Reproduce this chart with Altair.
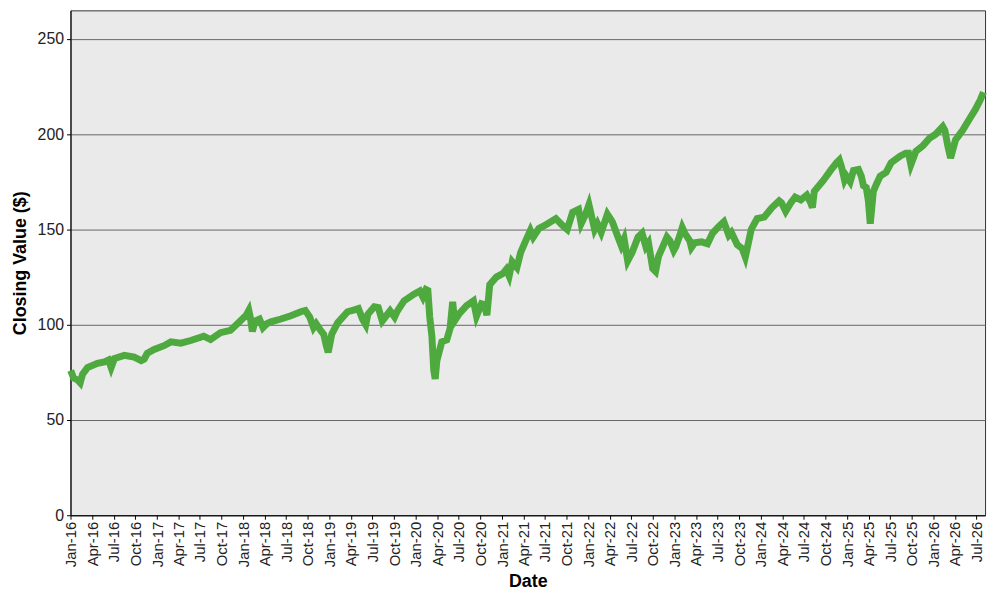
import altair as alt
import pandas as pd

dates = [
    "2016-01-01", "2016-01-13", "2016-01-30", "2016-02-10", "2016-02-20", "2016-03-12",
    "2016-04-23", "2016-05-23", "2016-06-09", "2016-06-20", "2016-07-04", "2016-08-15",
    "2016-09-26", "2016-10-25", "2016-11-07", "2016-11-20", "2016-12-19", "2017-01-30",
    "2017-02-28", "2017-04-11", "2017-05-23", "2017-07-17", "2017-08-15", "2017-09-26",
    "2017-11-07", "2017-12-11", "2018-01-13", "2018-01-24", "2018-01-30", "2018-02-08",
    "2018-02-20", "2018-03-10", "2018-03-25", "2018-04-10", "2018-04-28", "2018-06-09",
    "2018-07-21", "2018-09-01", "2018-09-20", "2018-10-09", "2018-10-25", "2018-11-05",
    "2018-11-24", "2018-12-07", "2018-12-18", "2018-12-26", "2019-01-10", "2019-02-04",
    "2019-03-18", "2019-04-16", "2019-05-03", "2019-05-20", "2019-06-03", "2019-06-12",
    "2019-07-09", "2019-07-26", "2019-08-12", "2019-09-14", "2019-10-03", "2019-10-14",
    "2019-11-12", "2019-12-24", "2020-01-18", "2020-01-31", "2020-02-13", "2020-02-21",
    "2020-02-29", "2020-03-09", "2020-03-17", "2020-03-23", "2020-03-30", "2020-04-20",
    "2020-05-11", "2020-05-25", "2020-06-05", "2020-06-13", "2020-07-04", "2020-08-03",
    "2020-09-01", "2020-09-14", "2020-10-05", "2020-10-17", "2020-10-28", "2020-11-09",
    "2020-12-07", "2021-01-05", "2021-01-18", "2021-01-30", "2021-02-12", "2021-03-04",
    "2021-03-20", "2021-04-10", "2021-04-30", "2021-05-12", "2021-06-05", "2021-07-05",
    "2021-08-16", "2021-09-14", "2021-10-03", "2021-10-26", "2021-11-20", "2021-12-01",
    "2021-12-20", "2022-01-03", "2022-01-18", "2022-01-27", "2022-02-08", "2022-02-24",
    "2022-03-22", "2022-04-12", "2022-05-03", "2022-05-20", "2022-06-01", "2022-06-16",
    "2022-07-05", "2022-07-30", "2022-08-16", "2022-09-01", "2022-09-12", "2022-09-30",
    "2022-10-12", "2022-10-25", "2022-11-08", "2022-11-29", "2022-12-12", "2022-12-28",
    "2023-01-06", "2023-01-23", "2023-02-02", "2023-02-13", "2023-03-06", "2023-03-13",
    "2023-03-27", "2023-04-25", "2023-05-20", "2023-06-10", "2023-07-10", "2023-07-28",
    "2023-08-18", "2023-08-29", "2023-09-23", "2023-10-14", "2023-10-27", "2023-11-04",
    "2023-11-21", "2023-12-16", "2024-01-15", "2024-02-17", "2024-03-18", "2024-03-28",
    "2024-04-15", "2024-05-07", "2024-05-25", "2024-06-18", "2024-07-13", "2024-07-30",
    "2024-08-06", "2024-08-14", "2024-09-23", "2024-10-22", "2024-11-16", "2024-11-28",
    "2024-12-07", "2024-12-20", "2024-12-28", "2025-01-13", "2025-01-27", "2025-02-17",
    "2025-03-01", "2025-03-10", "2025-03-22", "2025-03-31", "2025-04-08", "2025-04-21",
    "2025-05-05", "2025-05-20", "2025-06-14", "2025-07-05", "2025-08-12", "2025-09-05",
    "2025-09-17", "2025-09-27", "2025-10-18", "2025-11-17", "2025-12-16", "2026-01-10",
    "2026-02-09", "2026-02-18", "2026-03-02", "2026-03-14", "2026-04-04", "2026-05-04",
    "2026-06-02", "2026-06-27", "2026-07-18", "2026-07-31",
]

closing = [
    76, 72, 71, 69.5, 74, 77.5,
    79.7, 80.5, 81.5, 77.5, 82.3, 83.9,
    83, 81.2, 82, 85, 87, 89,
    91, 90.3, 91.7, 94, 92.2, 95.8,
    97, 101, 105, 107.5, 104, 96.5,
    102, 103, 98.5, 100.5, 101.5, 103,
    104.7, 106.8, 107.5, 104, 98.5, 100.5,
    97, 95, 89, 85.5, 95, 101,
    106.8, 107.8, 108.5, 103, 100, 105.5,
    109.4, 109, 102, 107.3, 104, 107,
    112.5, 116, 117.7, 114.5, 118.5, 118,
    104, 94, 76, 71.5, 81, 91,
    92, 98, 112, 102, 106, 110,
    112.5, 104.5, 111, 110.5, 105, 121,
    125, 127, 129, 125.5, 133, 130,
    138, 144, 149.5, 146, 150.5, 152.5,
    155.7, 152, 150, 159, 160.5, 153,
    158, 163, 155, 150, 153, 148.5,
    158, 154, 147, 141.5, 145, 133.5,
    138, 146, 148, 141, 143, 129.5,
    128, 136, 140, 146, 144, 139,
    141, 147, 151, 148, 144, 140.5,
    143, 143.5, 142.5, 148, 152, 154,
    147, 148.5, 142, 140, 135.5, 140,
    150, 155.7, 156.5, 161.5, 165, 164,
    159.5, 164, 167, 165.5, 168, 164,
    161.5, 170, 176, 181, 185, 186.5,
    183, 176, 178, 175, 181, 181.5,
    178, 173, 172, 165, 153, 170,
    174, 178, 180, 185, 188.5, 190,
    190, 184, 191, 194, 198, 200,
    204, 202, 194, 187.5, 197, 202,
    208, 213, 218, 222,
]

y_ticks = [0, 50, 100, 150, 200, 250]
tick_years = list(range(2016, 2027))
tick_months = [1, 4, 7, 10]

x_tick_values = []
for yr in tick_years:
    for mo in tick_months:
        if yr == 2026 and mo > 7:
            continue
        x_tick_values.append(alt.DateTime(year=yr, month=mo, date=1, utc=True))

df = pd.DataFrame({"Date": dates, "Close": closing})

chart = (
    alt.Chart(df)
    .mark_line(color="#4ea93f", strokeWidth=7, strokeJoin="miter")
    .encode(
        x=alt.X(
            "Date:T",
            scale=alt.Scale(
                type="utc",
                domain=[
                    alt.DateTime(year=2015, month=12, date=31, utc=True),
                    alt.DateTime(year=2026, month=8, date=7, utc=True),
                ],
                nice=False,
            ),
            axis=alt.Axis(
                title="Date",
                values=x_tick_values,
                format="%b-%y",
                labelAngle=-90,
                grid=False,
                labelFontSize=15,
                labelFont="Liberation Sans",
                labelColor="#222222",
                labelPadding=2,
                labelOverlap=False,
                labelFlush=False,
                tickSize=4,
                tickColor="#000000",
                domainColor="#000000",
                titleFontSize=18,
                titleFont="Liberation Sans",
                titleFontWeight="bold",
                titleColor="#000000",
                titlePadding=6,
            ),
        ),
        y=alt.Y(
            "Close:Q",
            scale=alt.Scale(domain=[0, 265], nice=False, zero=True),
            axis=alt.Axis(
                title="Closing Value ($)",
                values=y_ticks,
                grid=True,
                gridColor="#666666",
                gridWidth=1,
                labelFontSize=16,
                labelFont="Liberation Sans",
                labelColor="#222222",
                labelPadding=3,
                tickSize=4,
                tickColor="#000000",
                domainColor="#000000",
                titleFontSize=18,
                titleFont="Liberation Sans",
                titleFontWeight="bold",
                titleColor="#000000",
                titlePadding=8,
            ),
        ),
    )
    .properties(
        width=922,
        height=509,
        autosize=alt.AutoSizeParams(type="none"),
        padding={"left": 63, "top": 0, "right": 7, "bottom": 75},
        background="#ffffff",
    )
    .configure_view(fill="#EAEAEA", stroke="#333333", strokeWidth=1)
)

chart.save("out.html", embed_options={"renderer": "svg", "actions": False})
